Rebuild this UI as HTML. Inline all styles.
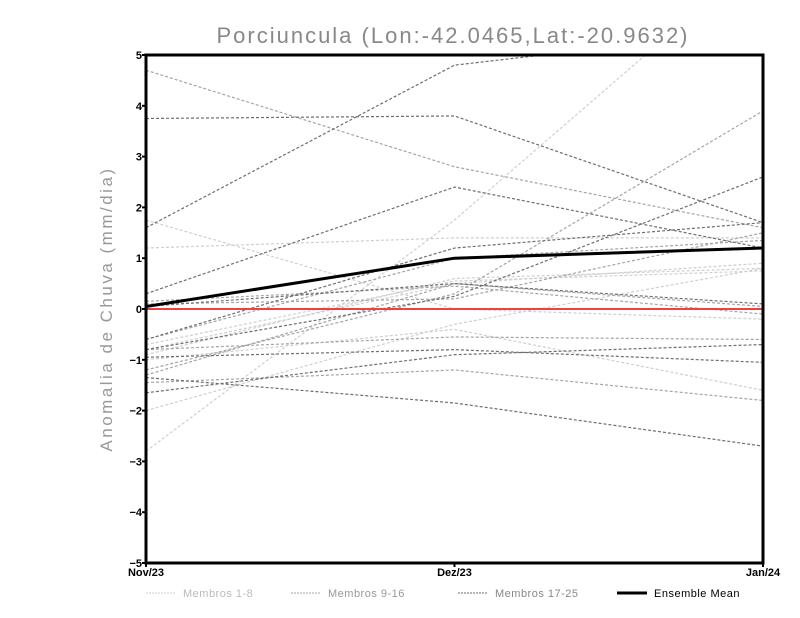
<!DOCTYPE html>
<html><head><meta charset="utf-8"><style>
html,body{margin:0;padding:0;background:#fff;width:800px;height:618px;overflow:hidden}
svg{display:block}
text{font-family:"Liberation Sans",sans-serif}
</style></head><body>
<svg id="chart" width="800" height="618"></svg>
<script>
const categories=["Nov/23","Dez/23","Jan/24"];
const yTicks=[-5,-4,-3,-2,-1,0,1,2,3,4,5];
const mean=[0.05,1.0,1.2];
const members1to8=[[-2.8,1.75,7.0],[1.2,1.4,1.4],[1.75,0.0,-0.2],[-2.0,-0.3,0.8],[-0.8,0.5,0.9],[-0.7,0.55,0.75],[-1.0,-0.4,-1.6],[-0.9,0.6,0.8]];
const members9to16=[[4.7,2.8,1.6],[-1.2,0.3,3.9],[0.15,0.45,-0.1],[-0.8,-0.55,-0.6],[-1.45,-1.2,-1.8],[-0.6,1.0,1.35],[-1.3,0.5,0.05],[0.1,0.2,1.5]];
const members17to25=[[3.75,3.8,1.7],[1.6,4.8,5.5],[0.3,2.4,1.2],[-0.6,1.2,1.7],[-1.65,-0.9,-0.7],[-1.35,-1.85,-2.7],[-0.95,-0.8,-1.05],[-0.8,0.25,2.6],[0.05,0.5,0.1]];
const legendLabels=["Membros 1-8","Membros 9-16","Membros 17-25","Ensemble Mean"];

const NS="http://www.w3.org/2000/svg";
const svg=document.getElementById('chart');
const L=146,R=763,T=55,B=563;
const xS=i=>L+(R-L)*i/(categories.length-1);
const yS=v=>B-(v+5)/10*(B-T);
function el(tag,attrs,parent){const e=document.createElementNS(NS,tag);for(const k in attrs)e.setAttribute(k,attrs[k]);(parent||svg).appendChild(e);return e;}

const defs=el('defs',{});
const cp=el('clipPath',{id:'clip'},defs);
el('rect',{x:L,y:T,width:R-L,height:B-T},cp);

const t=el('text',{x:453,y:43,'text-anchor':'middle','font-size':'22','fill':'#888','letter-spacing':'2'});
t.textContent="Porciuncula (Lon:-42.0465,Lat:-20.9632)";



const yt=el('text',{x:0,y:0,'text-anchor':'middle','font-size':'17','fill':'#999','letter-spacing':'2.5',transform:'translate(112,309) rotate(-90)'});
yt.textContent="Anomalia de Chuva (mm/dia)";



const g=el('g',{'clip-path':'url(#clip)'});
function drawGroup(arr,color,name){
  arr.forEach((s,j)=>{
    const p=el('polyline',{points:s.map((v,i)=>xS(i)+','+yS(v)).join(' '),fill:'none',stroke:color,'stroke-width':'1.2','stroke-dasharray':'3,2'},g);
    
    
  });
}
drawGroup(members1to8,'#cfcfcf','member-1-8');
drawGroup(members9to16,'#a5a5a5','member-9-16');
drawGroup(members17to25,'#6e6e6e','member-17-25');
const z=el('line',{x1:L,x2:R,y1:yS(0),y2:yS(0),stroke:'#f04040','stroke-width':'2'},g);


const m=el('polyline',{points:mean.map((v,i)=>xS(i)+','+yS(v)).join(' '),fill:'none',stroke:'#000','stroke-width':'3'},g);



const fr=el('rect',{x:L,y:T,width:R-L,height:B-T,fill:'none',stroke:'#000','stroke-width':'3'});



yTicks.forEach(v=>{
  el('line',{x1:L-4,x2:L,y1:yS(v),y2:yS(v),stroke:'#000','stroke-width':'2'});
  const tx=el('text',{x:L-4,y:yS(v)+4,'text-anchor':'end','font-size':'11','font-weight':'bold'});
  tx.textContent=v<0?'\u2212'+(-v):String(v);
  
  
});
categories.forEach((c,i)=>{
  el('line',{x1:xS(i),x2:xS(i),y1:B,y2:B+4,stroke:'#000','stroke-width':'2'});
  const tx=el('text',{x:xS(i),y:B+13,'text-anchor':'middle','font-size':'11','font-weight':'bold'});
  tx.textContent=c;
  
  
});

const legColors=['#cfcfcf','#a5a5a5','#6e6e6e','#000'];
const legText=['#bbb','#999','#888','#000'];
const legX=[146,291,458,617];
legendLabels.forEach((lab,i)=>{
  const lg=el('g',{});
  
  
  el('line',{x1:legX[i],x2:legX[i]+30,y1:593,y2:593,stroke:legColors[i],'stroke-width':i==3?'3':'1','stroke-dasharray':i==3?'none':'2,1'},lg);
  const tx=el('text',{x:legX[i]+37,y:597,'font-size':'11','fill':legText[i],'letter-spacing':'0.5'},lg);
  tx.textContent=lab;
});
</script>
</body></html>
